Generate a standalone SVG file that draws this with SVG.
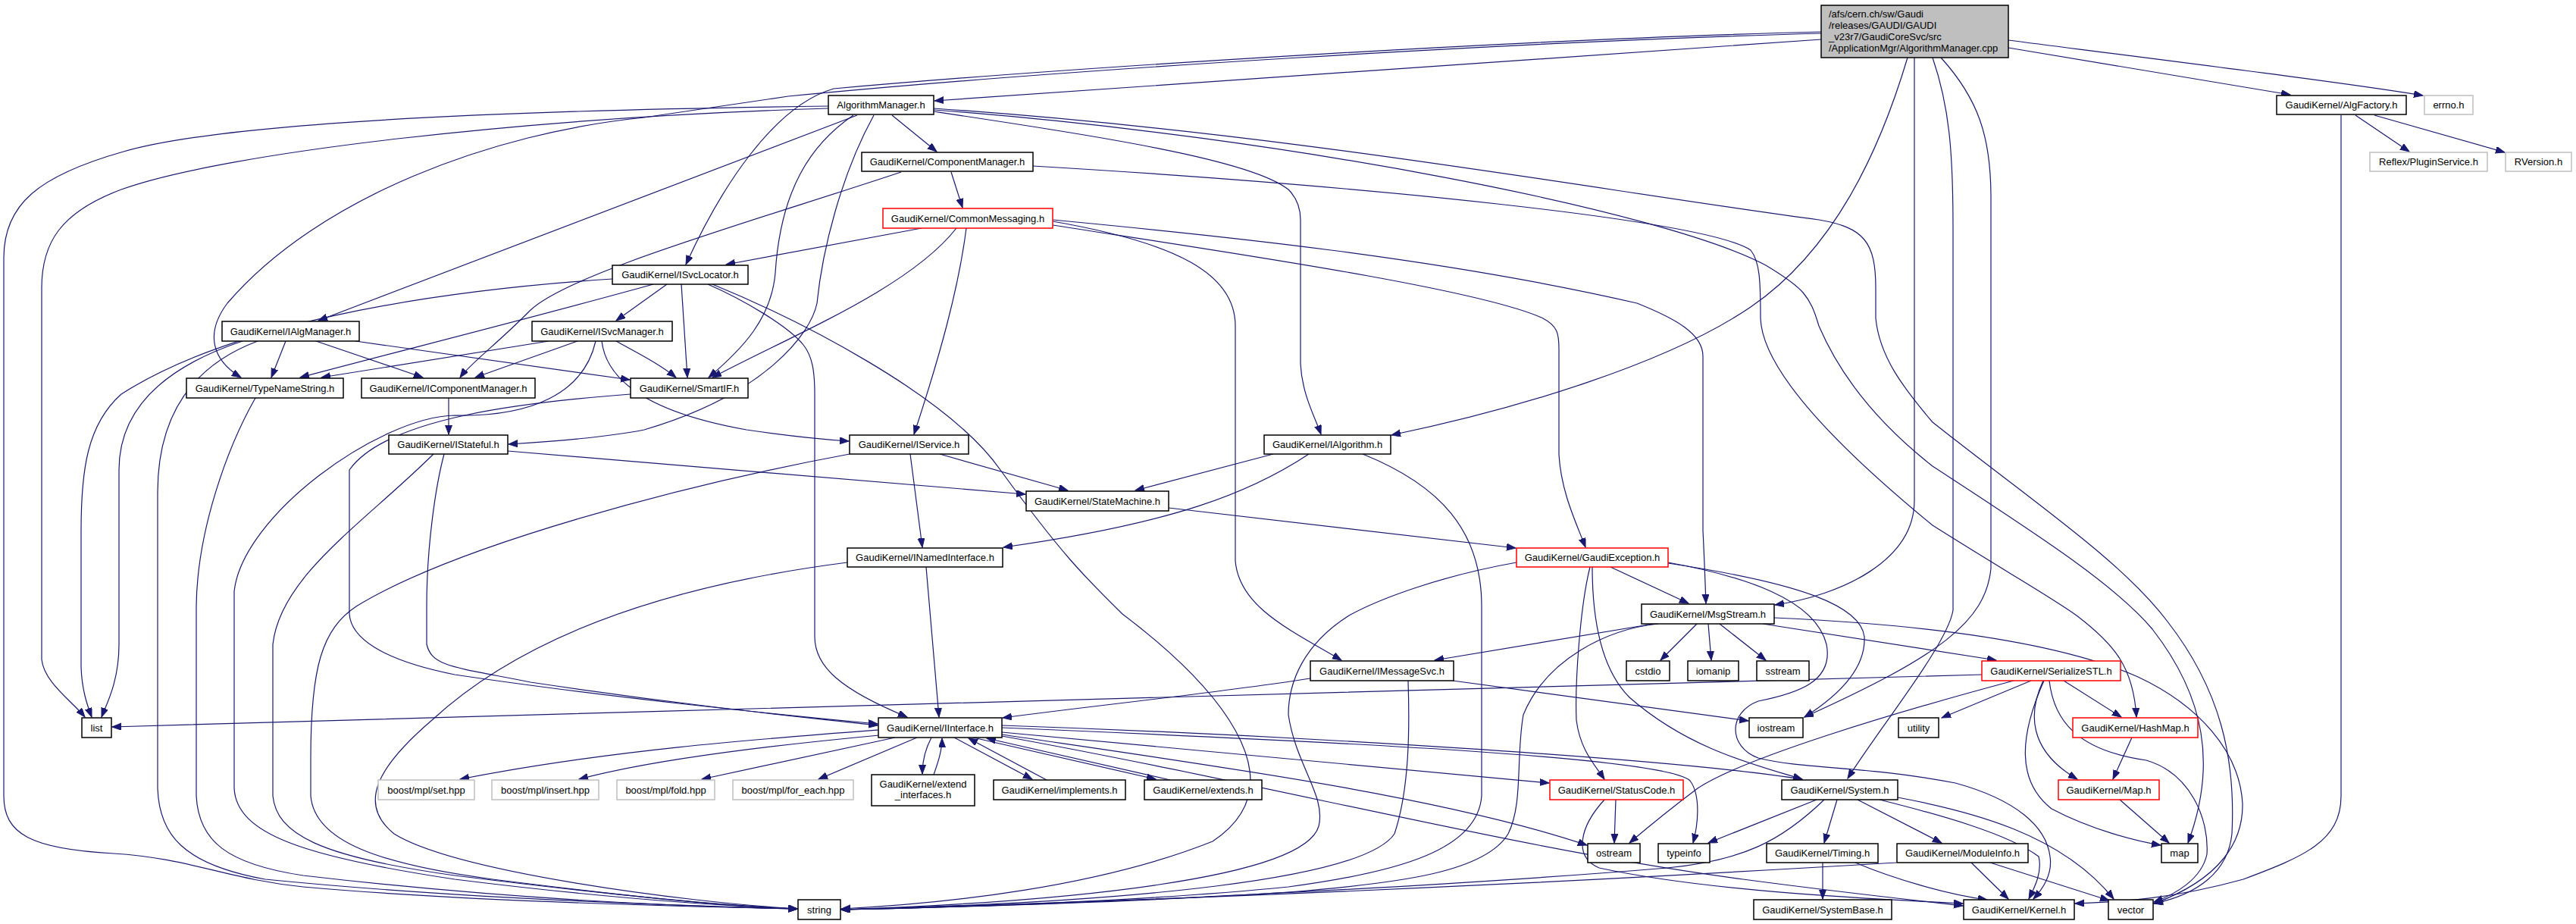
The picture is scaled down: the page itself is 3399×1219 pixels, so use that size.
<svg xmlns="http://www.w3.org/2000/svg" width="3399" height="1219" viewBox="0 0 3399 1219">
<style>
.n rect{fill:#fff;stroke:#000;stroke-width:1.5}
.n.r rect{stroke:#f00}
.n.g rect{stroke:#bfbfbf}
.n.root rect{fill:#bfbfbf}
text{font-family:"Liberation Sans",Arial,Helvetica,sans-serif;font-size:13px;fill:#000;text-anchor:middle}
.n.root text{text-anchor:start}
#edges path{fill:none;stroke:#191970;stroke-width:1.2;marker-end:url(#a)}
</style>
<defs>
<marker id="a" markerWidth="13" markerHeight="10" refX="12" refY="4.5" orient="auto" markerUnits="userSpaceOnUse"><path d="M0,0 L12,4.5 L0,9 z" fill="#191970" stroke="#191970" stroke-width="1"/></marker>
</defs>
<rect width="3399" height="1219" fill="#fff"/>
<g id="edges">
<path d="M2403,52 C2000,80 1500,115 1233,133"/>
<path d="M2403,42 C2000,52 1400,90 1100,117 C1020,140 950,250 905,349"/>
<path d="M2403,44 C2000,55 1400,92 1040,127 C950,140 880,150 850,155 C650,175 420,260 300,400 C270,440 280,475 318,498"/>
<path d="M2517,76 C2480,200 2420,330 2310,405 C2200,480 2000,540 1836,574"/>
<path d="M2526,76 L2526,660 C2526,740 2430,785 2342,798"/>
<path d="M2550,76 C2572,140 2577,200 2577,300 L2577,805 C2570,850 2480,960 2438,1027"/>
<path d="M2561,76 C2610,130 2627,180 2627,260 L2627,750 C2620,820 2560,865 2381,946"/>
<path d="M2650,63 L3022,125"/>
<path d="M2650,53 C2900,85 3100,110 3197,126"/>
<path d="M1093,140 C700,145 300,160 163,200 C50,232 5,270 5,340 L5,1050 C5,1100 40,1120 150,1126 C250,1132 300,1160 400,1170 C600,1188 850,1195 1052,1199"/>
<path d="M1093,143 C700,155 300,200 160,250 C80,280 55,320 55,380 L55,870 C58,900 95,925 112,946"/>
<path d="M1131,152 L420,423"/>
<path d="M1126,152 C1070,190 1030,250 1023,360 C1018,420 980,460 935,498"/>
<path d="M1153,152 C1110,230 1085,330 1078,400 C1070,440 1010,520 850,567 C800,577 720,583 671,586"/>
<path d="M1177,152 L1236,200"/>
<path d="M1232,147 C1450,180 1650,210 1700,250 C1712,262 1716,275 1716,290 L1716,480 C1718,520 1735,550 1743,573"/>
<path d="M1232,145 C1700,180 2200,280 2330,350 C2380,380 2388,390 2400,430 C2430,500 2480,560 2550,615 C2680,700 2790,770 2840,830 C2910,920 2925,1010 2887,1112"/>
<path d="M1232,143 C1700,175 2100,250 2400,290 C2460,300 2475,320 2475,380 L2475,420 C2480,470 2510,510 2550,557 C2680,660 2800,740 2860,820 C2930,910 2950,1000 2945,1100 C2940,1150 2900,1180 2842,1192"/>
<path d="M1189,227 C1000,290 750,360 699,410 C660,450 620,480 607,498"/>
<path d="M1255,227 L1270,274"/>
<path d="M1363,219 C1800,245 2250,290 2310,330 C2322,345 2323,370 2323,420 C2325,480 2400,570 2550,693 C2640,750 2710,790 2740,812 C2790,850 2815,880 2819,946"/>
<path d="M1216,301 L958,349"/>
<path d="M1262,301 C1200,380 1050,440 940,498"/>
<path d="M1275,301 C1265,380 1240,470 1206,573"/>
<path d="M1389,292 C1550,320 1630,360 1630,430 L1630,740 C1635,800 1700,830 1770,871"/>
<path d="M1389,290 C1600,310 1900,340 2160,400 C2210,420 2247,440 2247,470 L2247,700 C2249,740 2250,770 2251,796"/>
<path d="M1389,297 C1600,330 1950,380 2036,420 C2055,430 2057,440 2057,460 L2057,600 C2060,650 2080,690 2092,722"/>
<path d="M808,368 C550,385 300,430 160,520 C115,560 107,620 107,700 L107,880 C108,910 115,930 121,946"/>
<path d="M862,375 C700,420 500,470 396,498"/>
<path d="M880,375 L813,423"/>
<path d="M899,375 L907,498"/>
<path d="M934,375 C980,395 1040,430 1060,455 C1072,470 1075,490 1075,520 L1075,840 C1075,880 1110,910 1197,946"/>
<path d="M940,375 C1050,420 1250,520 1320,620 C1400,730 1430,760 1481,810 C1600,900 1720,1030 1600,1110 C1450,1170 1250,1192 1110,1199"/>
<path d="M377,450 L358,498"/>
<path d="M417,450 L558,498"/>
<path d="M469,450 L831,501"/>
<path d="M320,450 C230,480 157,530 157,620 L157,850 C157,900 140,930 134,946"/>
<path d="M340,450 C260,480 208,540 208,650 L208,1040 C210,1100 240,1140 350,1160 C600,1185 900,1195 1052,1199"/>
<path d="M724,450 L424,498"/>
<path d="M762,450 L627,498"/>
<path d="M813,450 C840,465 870,480 892,498"/>
<path d="M794,450 C800,500 850,543 985,567 C1040,575 1090,580 1120,582"/>
<path d="M786,450 C770,520 700,550 600,548 C500,550 320,680 309,780 L309,1040 C312,1100 400,1130 600,1160 C800,1185 950,1195 1052,1199"/>
<path d="M337,525 C300,590 260,700 259,800 L259,1050 C262,1110 300,1140 400,1155 C700,1190 950,1197 1052,1199"/>
<path d="M592,525 L592,573"/>
<path d="M586,599 C575,640 563,720 563,800 L563,850 C570,880 600,880 700,900 C900,930 1050,945 1158,957"/>
<path d="M670,595 L1353,652"/>
<path d="M572,599 C480,690 370,760 360,850 L360,1050 C365,1100 420,1130 600,1155 C800,1180 950,1195 1052,1199"/>
<path d="M832,520 C700,530 510,550 461,620 L461,810 C463,840 500,870 600,890 C800,920 1050,945 1158,955"/>
<path d="M1240,599 L1409,647"/>
<path d="M1201,599 L1217,722"/>
<path d="M1121,599 C900,640 600,720 470,800 C425,830 410,880 410,1000 L410,1050 C415,1110 500,1140 650,1160 C850,1185 950,1195 1052,1199"/>
<path d="M1680,599 L1498,647"/>
<path d="M1727,599 C1650,650 1550,690 1324,722"/>
<path d="M1798,599 C1900,640 1955,700 1955,800 L1955,1050 C1950,1120 1850,1150 1700,1170 C1500,1190 1250,1197 1110,1200"/>
<path d="M1542,670 L2000,723"/>
<path d="M1222,748 L1239,946"/>
<path d="M1118,742 C900,770 700,830 570,950 C500,1010 470,1060 520,1100 C600,1150 900,1190 1052,1199"/>
<path d="M2125,748 L2228,796"/>
<path d="M2098,748 C2085,800 2078,900 2080,950 C2085,990 2105,1010 2117,1028"/>
<path d="M2101,748 C2101,810 2110,880 2150,920 C2230,990 2320,1010 2378,1028"/>
<path d="M2001,742 C1900,760 1820,790 1780,812 C1720,850 1700,900 1700,943 C1710,1010 1750,1050 1740,1090 C1720,1160 1400,1190 1110,1200"/>
<path d="M2201,743 C2380,770 2455,800 2460,840 C2462,880 2430,915 2381,946"/>
<path d="M2201,742 C2300,760 2395,790 2410,850 C2420,900 2370,915 2320,925 C2280,940 2280,985 2320,1000 C2380,1015 2460,1010 2580,1033 C2660,1055 2700,1090 2705,1130 C2708,1150 2698,1170 2683,1186"/>
<path d="M2182,823 L1893,871"/>
<path d="M2239,823 L2191,871"/>
<path d="M2254,823 L2258,871"/>
<path d="M2269,823 L2330,871"/>
<path d="M2326,823 C2400,835 2500,850 2634,871"/>
<path d="M2341,815 C2500,822 2700,840 2821,893 C2900,930 2955,990 2959,1060 C2960,1110 2930,1160 2842,1192"/>
<path d="M2188,823 C2120,830 2040,870 2010,943 C2000,1000 2010,1060 1990,1100 C1960,1150 1850,1165 1700,1177 C1500,1190 1250,1197 1110,1200"/>
<path d="M1729,895 C1600,915 1450,930 1323,947"/>
<path d="M1917,898 L2307,951"/>
<path d="M1858,898 C1860,960 1860,1040 1840,1100 C1800,1160 1500,1190 1110,1200"/>
<path d="M2615,890 C2000,905 1000,935 148,959"/>
<path d="M2657,898 C2500,940 2300,1000 2240,1040 C2200,1070 2170,1095 2150,1112"/>
<path d="M2680,898 L2562,947"/>
<path d="M2723,898 L2799,946"/>
<path d="M2696,898 C2676,940 2676,990 2741,1028"/>
<path d="M2697,898 C2665,970 2660,1030 2707,1067 C2760,1095 2820,1110 2851,1115"/>
<path d="M2704,898 C2710,950 2740,990 2832,1003 C2890,1020 2915,1080 2912,1127 C2905,1160 2870,1180 2842,1190"/>
<path d="M2813,973 L2788,1028"/>
<path d="M2797,1055 L2862,1112"/>
<path d="M2132,1055 L2130,1112"/>
<path d="M2117,1055 C2085,1090 2075,1130 2110,1145 C2250,1175 2450,1185 2590,1192"/>
<path d="M2397,1055 L2254,1112"/>
<path d="M2424,1055 L2407,1112"/>
<path d="M2451,1055 L2562,1112"/>
<path d="M2480,1055 C2560,1075 2650,1100 2690,1130 C2695,1150 2685,1170 2677,1186"/>
<path d="M2504,1052 C2600,1070 2720,1100 2789,1186"/>
<path d="M2407,1055 C2350,1110 2300,1135 2200,1145 C1900,1170 1400,1195 1110,1200"/>
<path d="M2405,1138 L2405,1186"/>
<path d="M2448,1138 C2500,1160 2570,1180 2622,1187"/>
<path d="M2601,1138 L2650,1186"/>
<path d="M2626,1138 L2783,1188"/>
<path d="M2502,1138 C2300,1150 1800,1180 1110,1200"/>
<path d="M3108,152 L3179,200"/>
<path d="M3133,152 L3305,201"/>
<path d="M3089,152 L3089,1050 C3089,1110 3040,1130 2960,1160 C2870,1185 2800,1190 2738,1192"/>
<path d="M1159,963 C1000,975 800,990 607,1028"/>
<path d="M1160,970 C1000,985 850,1005 764,1028"/>
<path d="M1181,973 L926,1028"/>
<path d="M1210,973 L1080,1028"/>
<path d="M1229,973 C1220,990 1217,1005 1217,1021"/>
<path d="M1232,1022 C1238,1005 1243,990 1243,974"/>
<path d="M1259,973 L1362,1028"/>
<path d="M1381,1029 L1278,974"/>
<path d="M1284,973 L1525,1028"/>
<path d="M1544,1029 L1302,974"/>
<path d="M1322,957 C1700,970 2200,1000 2378,1028"/>
<path d="M1322,960 C1800,980 2200,1000 2230,1030 C2245,1050 2240,1090 2234,1112"/>
<path d="M1322,966 L2044,1033"/>
<path d="M1322,969 C1600,1010 1900,1050 2094,1115"/>
<path d="M1322,971 C1700,1040 2000,1120 2300,1160 C2450,1180 2550,1190 2590,1195"/>
</g>
<g id="root" class="n root"><rect x="2403" y="7" width="247" height="69"/><text x="2413" y="22.8">/afs/cern.ch/sw/Gaudi</text><text x="2413" y="37.8">/releases/GAUDI/GAUDI</text><text x="2413" y="52.8">_v23r7/GaudiCoreSvc/src</text><text x="2413" y="67.8">/ApplicationMgr/AlgorithmManager.cpp</text></g>
<g id="AlgorithmManager_h" class="n"><rect x="1093" y="126" width="139" height="25"/><text x="1162.5" y="143">AlgorithmManager.h</text></g>
<g id="AlgFactory_h" class="n"><rect x="3004" y="126" width="171" height="25"/><text x="3089.5" y="143">GaudiKernel/AlgFactory.h</text></g>
<g id="errno_h" class="n g"><rect x="3199" y="126" width="64" height="25"/><text x="3231" y="143">errno.h</text></g>
<g id="ComponentManager_h" class="n"><rect x="1137" y="201" width="226" height="25"/><text x="1250" y="218">GaudiKernel/ComponentManager.h</text></g>
<g id="PluginService_h" class="n g"><rect x="3127" y="201" width="155" height="25"/><text x="3204.5" y="218">Reflex/PluginService.h</text></g>
<g id="RVersion_h" class="n g"><rect x="3306" y="201" width="87" height="25"/><text x="3349.5" y="218">RVersion.h</text></g>
<g id="CommonMessaging_h" class="n r"><rect x="1165" y="275" width="224" height="26"/><text x="1277" y="292.5">GaudiKernel/CommonMessaging.h</text></g>
<g id="ISvcLocator_h" class="n"><rect x="808" y="350" width="179" height="25"/><text x="897.5" y="367">GaudiKernel/ISvcLocator.h</text></g>
<g id="IAlgManager_h" class="n"><rect x="293" y="424" width="181" height="26"/><text x="383.5" y="441.5">GaudiKernel/IAlgManager.h</text></g>
<g id="ISvcManager_h" class="n"><rect x="702" y="424" width="185" height="26"/><text x="794.5" y="441.5">GaudiKernel/ISvcManager.h</text></g>
<g id="TypeNameString_h" class="n"><rect x="246" y="499" width="207" height="26"/><text x="349.5" y="516.5">GaudiKernel/TypeNameString.h</text></g>
<g id="IComponentManager_h" class="n"><rect x="477" y="499" width="229" height="26"/><text x="591.5" y="516.5">GaudiKernel/IComponentManager.h</text></g>
<g id="SmartIF_h" class="n"><rect x="832" y="499" width="155" height="26"/><text x="909.5" y="516.5">GaudiKernel/SmartIF.h</text></g>
<g id="IStateful_h" class="n"><rect x="513" y="574" width="157" height="25"/><text x="591.5" y="591">GaudiKernel/IStateful.h</text></g>
<g id="IService_h" class="n"><rect x="1121" y="574" width="157" height="25"/><text x="1199.5" y="591">GaudiKernel/IService.h</text></g>
<g id="IAlgorithm_h" class="n"><rect x="1668" y="574" width="167" height="25"/><text x="1751.5" y="591">GaudiKernel/IAlgorithm.h</text></g>
<g id="StateMachine_h" class="n"><rect x="1354" y="648" width="188" height="26"/><text x="1448" y="665.5">GaudiKernel/StateMachine.h</text></g>
<g id="INamedInterface_h" class="n"><rect x="1118" y="723" width="205" height="25"/><text x="1220.5" y="740">GaudiKernel/INamedInterface.h</text></g>
<g id="GaudiException_h" class="n r"><rect x="2001" y="723" width="200" height="25"/><text x="2101" y="740">GaudiKernel/GaudiException.h</text></g>
<g id="MsgStream_h" class="n"><rect x="2166" y="797" width="175" height="26"/><text x="2253.5" y="814.5">GaudiKernel/MsgStream.h</text></g>
<g id="IMessageSvc_h" class="n"><rect x="1729" y="872" width="189" height="26"/><text x="1823.5" y="889.5">GaudiKernel/IMessageSvc.h</text></g>
<g id="cstdio" class="n"><rect x="2146" y="872" width="57" height="26"/><text x="2174.5" y="889.5">cstdio</text></g>
<g id="iomanip" class="n"><rect x="2227" y="872" width="67" height="26"/><text x="2260.5" y="889.5">iomanip</text></g>
<g id="sstream" class="n"><rect x="2318" y="872" width="69" height="26"/><text x="2352.5" y="889.5">sstream</text></g>
<g id="SerializeSTL_h" class="n r"><rect x="2615" y="872" width="183" height="26"/><text x="2706.5" y="889.5">GaudiKernel/SerializeSTL.h</text></g>
<g id="list" class="n"><rect x="108" y="947" width="39" height="26"/><text x="127.5" y="964.5">list</text></g>
<g id="IInterface_h" class="n"><rect x="1159" y="947" width="163" height="26"/><text x="1240.5" y="964.5">GaudiKernel/IInterface.h</text></g>
<g id="iostream" class="n"><rect x="2308" y="947" width="71" height="26"/><text x="2343.5" y="964.5">iostream</text></g>
<g id="utility" class="n"><rect x="2505" y="947" width="53" height="26"/><text x="2531.5" y="964.5">utility</text></g>
<g id="HashMap_h" class="n r"><rect x="2735" y="947" width="165" height="26"/><text x="2817.5" y="964.5">GaudiKernel/HashMap.h</text></g>
<g id="mpl_set" class="n g"><rect x="499" y="1029" width="127" height="26"/><text x="562.5" y="1046.5">boost/mpl/set.hpp</text></g>
<g id="mpl_insert" class="n g"><rect x="649" y="1029" width="141" height="26"/><text x="719.5" y="1046.5">boost/mpl/insert.hpp</text></g>
<g id="mpl_fold" class="n g"><rect x="814" y="1029" width="129" height="26"/><text x="878.5" y="1046.5">boost/mpl/fold.hpp</text></g>
<g id="mpl_for_each" class="n g"><rect x="967" y="1029" width="159" height="26"/><text x="1046.5" y="1046.5">boost/mpl/for_each.hpp</text></g>
<g id="extend_interfaces_h" class="n"><rect x="1150" y="1022" width="136" height="41"/><text x="1218" y="1038.5">GaudiKernel/extend</text><text x="1218" y="1052.5">_interfaces.h</text></g>
<g id="implements_h" class="n"><rect x="1311" y="1029" width="174" height="26"/><text x="1398" y="1046.5">GaudiKernel/implements.h</text></g>
<g id="extends_h" class="n"><rect x="1510" y="1029" width="155" height="26"/><text x="1587.5" y="1046.5">GaudiKernel/extends.h</text></g>
<g id="StatusCode_h" class="n r"><rect x="2045" y="1029" width="176" height="26"/><text x="2133" y="1046.5">GaudiKernel/StatusCode.h</text></g>
<g id="System_h" class="n"><rect x="2351" y="1029" width="153" height="26"/><text x="2427.5" y="1046.5">GaudiKernel/System.h</text></g>
<g id="Map_h" class="n r"><rect x="2716" y="1029" width="133" height="26"/><text x="2782.5" y="1046.5">GaudiKernel/Map.h</text></g>
<g id="ostream" class="n"><rect x="2095" y="1113" width="69" height="25"/><text x="2129.5" y="1130">ostream</text></g>
<g id="typeinfo" class="n"><rect x="2188" y="1113" width="68" height="25"/><text x="2222" y="1130">typeinfo</text></g>
<g id="Timing_h" class="n"><rect x="2331" y="1113" width="147" height="25"/><text x="2404.5" y="1130">GaudiKernel/Timing.h</text></g>
<g id="ModuleInfo_h" class="n"><rect x="2503" y="1113" width="173" height="25"/><text x="2589.5" y="1130">GaudiKernel/ModuleInfo.h</text></g>
<g id="map" class="n"><rect x="2852" y="1113" width="48" height="25"/><text x="2876" y="1130">map</text></g>
<g id="string" class="n"><rect x="1053" y="1187" width="56" height="26"/><text x="1081" y="1204.5">string</text></g>
<g id="SystemBase_h" class="n"><rect x="2314" y="1187" width="182" height="26"/><text x="2405" y="1204.5">GaudiKernel/SystemBase.h</text></g>
<g id="Kernel_h" class="n"><rect x="2591" y="1187" width="146" height="26"/><text x="2664" y="1204.5">GaudiKernel/Kernel.h</text></g>
<g id="vector" class="n"><rect x="2782" y="1187" width="59" height="26"/><text x="2811.5" y="1204.5">vector</text></g>
</svg>
